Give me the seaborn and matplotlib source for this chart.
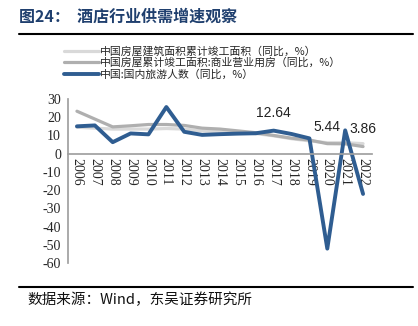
import matplotlib
matplotlib.use("Agg")
import matplotlib.pyplot as plt
import seaborn as sns
import pandas as pd
from matplotlib.lines import Line2D

years = [str(y) for y in range(2006, 2023)]
build_area = [14.5, 14.0, 13.5, 13.5, 13.5, 13.8, 13.5, 12.5, 12.0, 11.5, 11.0, 9.8, 8.2, 7.0, 6.0, 6.0, 5.5]
commercial = [23.3, 19.0, 14.7, 15.3, 16.0, 16.0, 15.5, 14.0, 13.5, 12.5, 11.5, 10.0, 8.5, 7.5, 5.5, 5.4, 3.9]
tourism = [15.0, 15.5, 6.3, 11.1, 10.6, 25.6, 12.0, 10.3, 10.7, 11.0, 11.2, 12.64, 10.8, 8.4, -52.1, 12.8, -22.1]
series_names = ["中国房屋建筑面积累计竣工面积（同比，%）",
                "中国房屋累计竣工面积:商业营业用房（同比，%）",
                "中国:国内旅游人数（同比，%）"]
annot_years = ["2017", "2020", "2022"]
annot_text = ["12.64", "5.44", "3.86"]
annot_y = [22.4, 14.7, 13.4]
yticks = [30, 20, 10, 0, -10, -20, -30, -40, -50, -60]

sns.set_theme(style="white")
plt.rcParams['font.family'] = ['Noto Sans CJK SC', 'DejaVu Sans']

df = pd.DataFrame({"year": years * 3,
                   "value": build_area + commercial + tourism,
                   "series": [series_names[0]] * 17 + [series_names[1]] * 17 + [series_names[2]] * 17})

W, H = 418, 326
fig = plt.figure(figsize=(W / 100, H / 100), dpi=100)
ax = fig.add_axes([68 / W, 1 - 263 / H, 304 / W, 164 / H])

colors = ["#D9D9D9", "#AFAFAF", "#2F5D91"]
widths = [2.3, 2.3, 2.8]
for name, c, lw in zip(series_names, colors, widths):
    sns.lineplot(data=df[df.series == name], x="year", y="value", ax=ax,
                 color=c, linewidth=lw, legend=False, sort=False)

ax.set_xlim(-0.5, 16.5)
ax.set_ylim(-60, 30)
ax.set_yticks(yticks)
ax.set_yticklabels([str(v) for v in yticks], family="Liberation Serif", fontsize=10)
ax.set_xlabel("")
ax.set_ylabel("")

for s in ["top", "right"]:
    ax.spines[s].set_visible(False)
ax.spines["left"].set_color("#A0A0A0")
ax.spines["bottom"].set_color("#A0A0A0")
ax.spines["bottom"].set_position(("data", 0))

ax.set_xticks(range(17))
ax.set_xticklabels(years, rotation=-90, family="Liberation Serif", fontsize=10, va="top")
ax.set_xticks([i - 0.5 for i in range(18)], minor=True)
ax.tick_params(axis="x", which="major", length=0, pad=3)
ax.tick_params(axis="x", which="minor", length=3, color="#A0A0A0", direction="out", width=0.8)
ax.tick_params(axis="y", length=3, color="#A0A0A0", direction="out", width=0.8, pad=2)

for yr, t, yv in zip(annot_years, annot_text, annot_y):
    ax.text(years.index(yr), yv, t, ha="center", va="center", fontsize=10,
            family="Liberation Sans", color="#222222")

handles = [Line2D([], [], color=c, linewidth=lw) for c, lw in zip(colors, widths)]
fig.legend(handles, series_names, loc="upper left", bbox_to_anchor=(64 / W, 1 - 46 / H),
           frameon=False, fontsize=7.8, handlelength=3.2, handletextpad=0.15,
           labelspacing=0.08, borderpad=0, borderaxespad=0)

fig.text(19 / W, 1 - 17 / H, "图24：  酒店行业供需增速观察", fontsize=11.5, fontweight="bold",
         color="#1F3F6E", va="center", ha="left")
fig.add_artist(Line2D([19 / W, 413 / W], [1 - 34 / H, 1 - 34 / H], color="black", linewidth=1.5))
fig.add_artist(Line2D([19 / W, 413 / W], [1 - 287 / H, 1 - 287 / H], color="black", linewidth=1.5))
fig.text(27 / W, 1 - 300 / H, "数据来源：Wind，东吴证券研究所", fontsize=10.5, va="center", ha="left",
         color="#111111")

fig.savefig("out.png", dpi=100)
